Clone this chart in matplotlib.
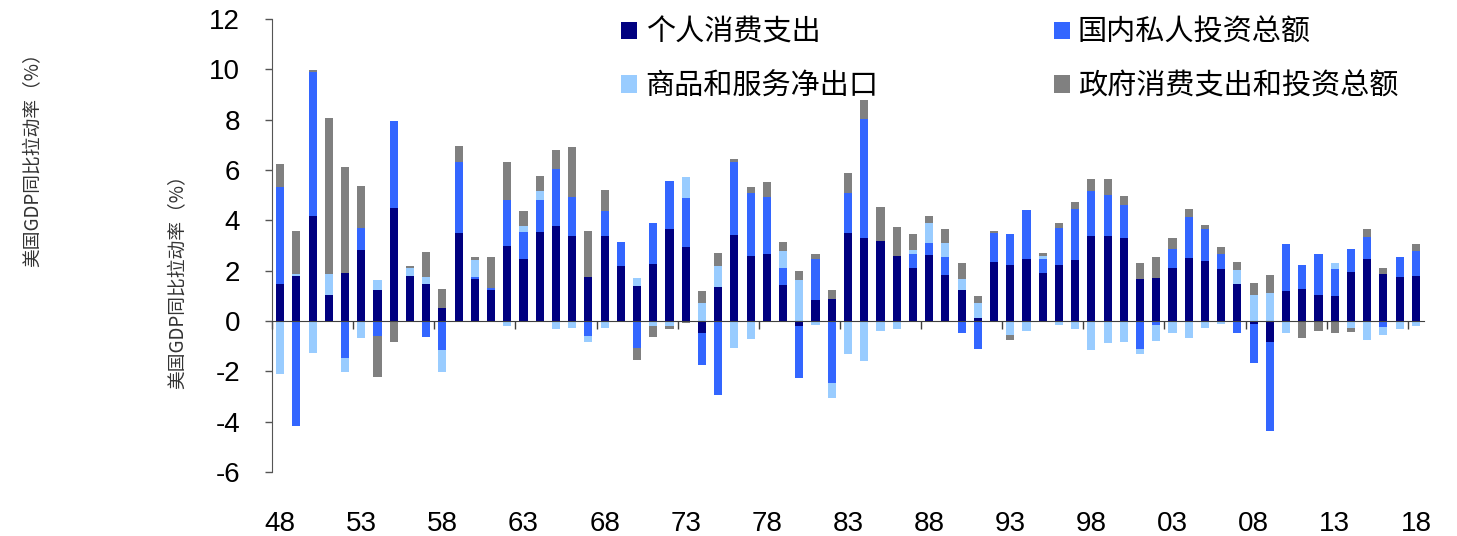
import numpy as np
import matplotlib
matplotlib.use("Agg")
import matplotlib.pyplot as plt
from matplotlib.patches import Patch

years = list(range(1948, 2019))
year_labels = [f"{y % 100:02d}" for y in years]

series_names = ["个人消费支出", "国内私人投资总额", "商品和服务净出口", "政府消费支出和投资总额"]

consumption = [1.46, 1.78, 4.18, 1.04, 1.89, 2.84, 1.22, 4.49, 1.78, 1.49,
               0.50, 3.49, 1.66, 1.22, 2.99, 2.46, 3.55, 3.78, 3.36, 1.74,
               3.36, 2.19, 1.38, 2.28, 3.64, 2.96, -0.49, 1.35, 3.40, 2.58,
               2.68, 1.42, -0.20, 0.82, 0.86, 3.48, 3.28, 3.19, 2.58, 2.12,
               2.64, 1.82, 1.25, 0.12, 2.35, 2.24, 2.48, 1.89, 2.24, 2.43,
               3.39, 3.39, 3.31, 1.65, 1.69, 2.11, 2.52, 2.38, 2.05, 1.47,
               -0.12, -0.84, 1.18, 1.26, 1.02, 0.98, 1.95, 2.48, 1.85, 1.73,
               1.78]
investment = [3.88, -4.17, 5.73, 0.00, -1.46, 0.84, -0.61, 3.45, 0.00, -0.64,
              -1.17, 2.84, 0.07, 0.11, 1.82, 1.09, 1.26, 2.27, 1.57, -0.61,
              1.02, 0.94, -1.06, 1.63, 1.93, 1.94, -1.27, -2.93, 2.93, 2.50,
              2.23, 0.70, -2.07, 1.65, -2.47, 1.62, 4.74, 0.00, 0.00, 0.56,
              0.44, 0.73, -0.46, -1.10, 1.13, 1.21, 1.93, 0.56, 1.47, 2.02,
              1.78, 1.62, 1.31, -1.12, -0.17, 0.77, 1.62, 1.26, 0.60, -0.48,
              -1.54, -3.55, 1.87, 0.96, 1.63, 1.10, 0.92, 0.84, -0.24, 0.80,
              1.01]
net_exports = [-2.12, 0.07, -1.27, 0.82, -0.57, -0.68, 0.40, 0.00, 0.33, 0.24,
               -0.86, 0.00, 0.70, 0.00, -0.21, 0.24, 0.37, -0.31, -0.28, -0.23,
               -0.28, 0.00, 0.33, -0.20, -0.21, 0.82, 0.72, 0.84, -1.06, -0.70,
               0.00, 0.66, 1.62, -0.15, -0.58, -1.33, -1.57, -0.40, -0.31, 0.16,
               0.82, 0.53, 0.41, 0.61, 0.00, -0.57, -0.41, 0.13, -0.15, -0.31,
               -1.14, -0.86, -0.84, -0.21, -0.62, -0.46, -0.68, -0.28, -0.11, 0.54,
               1.04, 1.12, -0.48, 0.00, 0.00, 0.23, -0.27, -0.77, -0.31, -0.31,
               -0.20]
government = [0.90, 1.74, 0.06, 6.20, 4.21, 1.69, -1.62, -0.82, 0.07, 1.02,
              0.76, 0.63, 0.12, 1.23, 1.51, 0.58, 0.58, 0.74, 1.97, 1.83,
              0.83, 0.02, -0.48, -0.44, -0.09, -0.08, 0.48, 0.52, 0.10, 0.24,
              0.60, 0.35, 0.37, 0.21, 0.36, 0.80, 0.77, 1.35, 1.17, 0.61,
              0.27, 0.57, 0.65, 0.25, 0.09, -0.17, 0.00, 0.11, 0.20, 0.29,
              0.46, 0.62, 0.35, 0.66, 0.84, 0.41, 0.32, 0.16, 0.29, 0.33,
              0.46, 0.70, 0.00, -0.68, -0.41, -0.48, -0.15, 0.32, 0.24, 0.01,
              0.28]

y_ticks = [-6, -4, -2, 0, 2, 4, 6, 8, 10, 12]
ylabel = "美国GDP同比拉动率（%）"

colors = ["#000080", "#3366FF", "#99CCFF", "#808080"]

plt.rcParams["font.family"] = ["Liberation Sans", "Noto Sans CJK SC", "DejaVu Sans"]

W, H = 1457, 536
fig = plt.figure(figsize=(W / 100, H / 100), dpi=100)
ax = fig.add_axes([272 / W, 1 - 472 / H, (1424 - 272) / W, (472 - 19) / H])

n = len(years)
x = np.arange(n)
pos = np.zeros(n)
neg = np.zeros(n)
for vals, col in zip([consumption, investment, net_exports, government], colors):
    v = np.array(vals, dtype=float)
    bottom = np.where(v >= 0, pos, neg)
    ax.bar(x, v, width=0.5, bottom=bottom, color=col, linewidth=0, zorder=2)
    pos += np.clip(v, 0, None)
    neg += np.clip(v, None, 0)

ax.set_xlim(-0.5, n - 0.5)
ax.set_ylim(y_ticks[0], y_ticks[-1])
ax.set_yticks(y_ticks)
ax.set_yticklabels([str(t) for t in y_ticks], fontsize=20)
for s in ["top", "right"]:
    ax.spines[s].set_visible(False)
ax.spines["left"].set_color("#555555")
ax.spines["bottom"].set_position(("data", 0))
ax.spines["bottom"].set_color("#404040")
ax.spines["bottom"].set_zorder(3)
ax.tick_params(axis="y", length=5, width=1, color="#555555", pad=18)
ax.set_xticks(np.arange(-0.5, n, 5))
ax.tick_params(axis="x", length=6, width=1, direction="out", color="#404040",
               labelbottom=False)

sec = ax.secondary_xaxis("bottom")
sec.set_xticks(x[::5])
sec.set_xticklabels(year_labels[::5], fontsize=20)
sec.spines["bottom"].set_visible(False)
sec.tick_params(length=0, pad=28)

# legend: order so that rows read (consumption, investment) / (net exports, government)
handles = [Patch(facecolor=c, edgecolor="none") for c in colors]
order = [0, 2, 1, 3]
leg = ax.legend([handles[i] for i in order], [series_names[i] for i in order],
                ncol=2, frameon=False, loc="upper left",
                bbox_to_anchor=((601 - 272) / (1424 - 272), 1.048),
                prop={"family": ["Noto Sans CJK SC"], "size": 21},
                handlelength=0.55, handleheight=0.55, handletextpad=0.28,
                columnspacing=6.0, labelspacing=0.82, borderpad=0.2)

fig.text(33 / W, 1 - 155 / H, ylabel, rotation=90, ha="center", va="center",
         fontsize=13.5, family=["Noto Sans CJK SC"], color="#333333")
fig.text(178 / W, 1 - 277 / H, ylabel, rotation=90, ha="center", va="center",
         fontsize=13.5, family=["Noto Sans CJK SC"], color="#333333")

fig.savefig("out.png", dpi=100)
